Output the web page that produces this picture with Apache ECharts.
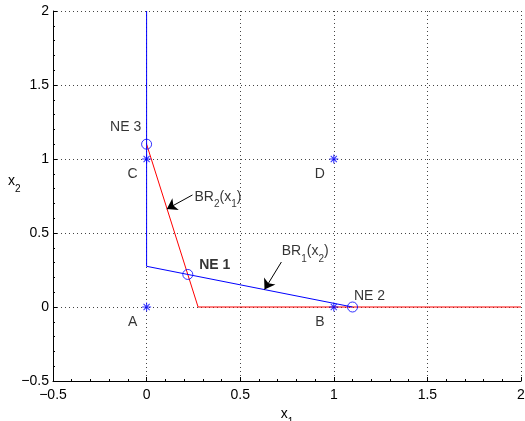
<!DOCTYPE html>
<html><head><meta charset="utf-8">
<script src="https://cdn.jsdelivr.net/npm/echarts@6/dist/echarts.min.js"></script>
<style>html,body{margin:0;padding:0;background:#fff}#c{width:525px;height:421px}</style>
</head><body><div id="c"></div>
<script>
// ---- data ----
const axisMin = -0.5, axisMax = 2, axisStep = 0.5;
const br1Line = [[0, 2], [0, 0.275], [1.1, 0]];      // BR1(x2), blue
const br2Line = [[0, 1.1], [0.275, 0], [2, 0]];      // BR2(x1), red
const outcomePts = [[0, 0], [1, 0], [0, 1], [1, 1]];
const outcomeNames = ['A', 'B', 'C', 'D'];
const nePts = [[0.22, 0.22], [1.1, 0], [0, 1.1]];
const neNames = ['NE 1', 'NE 2', 'NE 3'];
const br2Arrow = [[0.245, 0.757], [0.108, 0.662]];
const br1Arrow = [[0.72, 0.304], [0.63, 0.1175]];
const br2TextAt = [0.256, 0.745];
const br1TextAt = [0.722, 0.375];

// ---- chart ----
const FONT = '"Liberation Sans", Arial, Helvetica, sans-serif';
const chart = echarts.init(document.getElementById('c'), null, {renderer: 'canvas'});
const fmt = v => (v < 0 ? '\u2212' : '') + Math.abs(v);
const rich = {
  m: {fontSize: 14, fontFamily: FONT, color: '#000'},
  s: {fontSize: 10, fontFamily: FONT, color: '#000', padding: [16, 0, 0, 0]}
};
const asterisk = 'path://M44,0L56,0L56,100L44,100Z M0,44L100,44L100,56L0,56Z M12,20L20,12L88,80L80,88Z M80,12L88,20L20,88L12,80Z';
const neOffsets = [[27, -9], [17, -11], [-21, -17]];

const axisCommon = {
  type: 'value', min: axisMin, max: axisMax, interval: axisStep,
  axisLine: {show: true, onZero: false, lineStyle: {color: '#000', width: 1}},
  axisTick: {show: true, inside: true, length: 4, lineStyle: {color: '#000'}},
  minorTick: {show: true, splitNumber: 5, length: 2, lineStyle: {color: '#000'}},
  splitLine: {show: true, lineStyle: {color: '#444', type: [1, 3], width: 1}},
  axisLabel: {formatter: fmt, color: '#000', fontSize: 14, fontFamily: FONT}
};

chart.setOption({
  animation: false,
  backgroundColor: '#fff',
  grid: {left: 53, right: 4, top: 11, bottom: 40, containLabel: false, outerBoundsMode: 'none'},
  xAxis: Object.assign({}, axisCommon, {
    axisLabel: Object.assign({}, axisCommon.axisLabel, {margin: 7}),
    name: '{m|x}{s|1}', nameLocation: 'middle', nameGap: 20,
    nameTextStyle: {rich: rich}
  }),
  yAxis: Object.assign({}, axisCommon, {
    axisLabel: Object.assign({}, axisCommon.axisLabel, {margin: 4})
  }),
  graphic: [{
    type: 'text', left: 8, top: 174,
    style: {text: '{m|x}{s|2}', rich: rich}
  }],
  series: [
    {type: 'line', data: br1Line, symbol: 'none', lineStyle: {color: '#0000ff', width: 1}, z: 3},
    {type: 'line', data: br2Line, symbol: 'none', lineStyle: {color: '#ff0000', width: 1}, z: 2},
    {
      type: 'scatter', data: outcomePts.map((p, i) => ({value: p, name: outcomeNames[i]})),
      symbol: asterisk, symbolSize: 9, itemStyle: {color: '#0000ff'}, z: 4,
      label: {show: true, formatter: '{b}', position: 'inside', offset: [-14, 15],
        color: '#000', fontSize: 14, fontFamily: FONT}
    },
    {
      type: 'scatter', data: nePts.map((p, i) => ({
        value: p, name: neNames[i],
        label: {offset: neOffsets[i], fontWeight: i === 0 ? 'bold' : 'normal'}
      })),
      symbol: 'circle', symbolSize: 10, z: 5,
      itemStyle: {color: 'rgba(0,0,0,0)', borderColor: '#0000ff', borderWidth: 1},
      label: {show: true, formatter: '{b}', position: 'inside',
        color: '#000', fontSize: 14, fontFamily: FONT}
    },
    {
      type: 'lines', coordinateSystem: 'cartesian2d', z: 6,
      symbol: ['none', 'arrow'], symbolSize: [0, 10],
      lineStyle: {color: '#000', width: 1, opacity: 1},
      data: [{coords: br2Arrow}, {coords: br1Arrow}]
    },
    {
      type: 'scatter', symbolSize: 0, z: 7, silent: true,
      data: [
        {value: br2TextAt, label: {formatter: '{m|BR}{s|2}{m|(x}{s|1}{m|)}'}},
        {value: br1TextAt, label: {formatter: '{m|BR}{s|1}{m|(x}{s|2}{m|)}'}}
      ],
      label: {show: true, position: 'right', distance: 0, rich: rich}
    }
  ]
});
</script></body></html>
